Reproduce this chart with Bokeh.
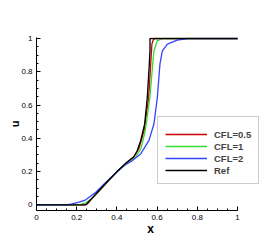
from bokeh.plotting import figure
from bokeh.models import FixedTicker, Legend, LegendItem, Range1d
from bokeh.embed import file_html
from bokeh.resources import INLINE
import numpy as np

# ---- data ----
ref_x = [0, 0.245, 0.30, 0.35, 0.40, 0.45, 0.482, 0.50, 0.518, 0.538, 0.551, 0.561, 0.5645, 0.5645, 1.0]
ref_y = [0, 0, 0.071, 0.136, 0.200, 0.256, 0.286, 0.322, 0.386, 0.486, 0.646, 0.846, 0.93, 1.0, 1.0]

cfl05_x = [0, 0.235, 0.25, 0.261, 0.28, 0.30, 0.35, 0.40, 0.45, 0.485, 0.51, 0.535, 0.558, 0.568, 0.574, 0.58, 0.588, 1.0]
cfl05_y = [0, 0, 0.004, 0.016, 0.042, 0.068, 0.134, 0.199, 0.256, 0.29, 0.34, 0.446, 0.646, 0.846, 0.966, 0.99, 1.0, 1.0]

cfl1_x = [0, 0.20, 0.22, 0.245, 0.27, 0.295, 0.35, 0.40, 0.45, 0.492, 0.52, 0.541, 0.564, 0.578, 0.584, 0.601, 0.626, 1.0]
cfl1_y = [0, 0, 0.003, 0.012, 0.033, 0.062, 0.135, 0.200, 0.256, 0.286, 0.34, 0.446, 0.646, 0.846, 0.926, 0.986, 1.0, 1.0]

cfl2_x = [0, 0.14, 0.162, 0.212, 0.245, 0.295, 0.345, 0.40, 0.44, 0.477, 0.518, 0.559, 0.584, 0.601, 0.614, 0.626, 0.651, 0.70, 0.75, 1.0]
cfl2_y = [0, 0, 0.002, 0.016, 0.03, 0.076, 0.136, 0.198, 0.24, 0.266, 0.306, 0.386, 0.486, 0.646, 0.846, 0.926, 0.966, 0.99, 1.0, 1.0]

x_ticks = [0, 0.2, 0.4, 0.6, 0.8, 1.0]
x_tick_labels = ["0", "0.2", "0.4", "0.6", "0.8", "1"]
y_ticks = [0, 0.2, 0.4, 0.6, 0.8, 1.0]
y_tick_labels = ["0", "0.2", "0.4", "0.6", "0.8", "1"]
minor = [round(v, 2) for v in np.arange(0, 1.0001, 0.05)]

FONT = "Liberation Sans"

p = figure(width=264, height=238, output_backend="svg", toolbar_location=None,
           x_range=Range1d(0, 1.134), y_range=Range1d(-0.034, 1.006),
           min_border_left=36, min_border_right=0, min_border_top=37, min_border_bottom=28)
p.outline_line_color = None
p.xgrid.visible = False
p.ygrid.visible = False

r_red = p.line(cfl05_x, cfl05_y, line_color="#cc0000", line_width=1.3)
r_grn = p.line(cfl1_x, cfl1_y, line_color="#33dd33", line_width=1.3)
r_blu = p.line(cfl2_x, cfl2_y, line_color="#3344ff", line_width=1.3)
r_ref = p.line(ref_x, ref_y, line_color="black", line_width=1.3)

for ax, ticks, labels in ((p.xaxis[0], x_ticks, x_tick_labels), (p.yaxis[0], y_ticks, y_tick_labels)):
    ax.ticker = FixedTicker(ticks=ticks, minor_ticks=minor)
    ax.major_label_overrides = {t: l for t, l in zip(ticks, labels)}
    ax.major_tick_in = 4
    ax.major_tick_out = 0
    ax.minor_tick_in = 2
    ax.minor_tick_out = 0
    ax.axis_line_color = "black"
    ax.axis_line_width = 1
    ax.major_label_text_font = FONT
    ax.major_label_text_font_size = "8px"
    ax.major_label_text_color = "black"
    ax.axis_label_text_font = FONT
    ax.axis_label_text_font_style = "bold"
    ax.axis_label_text_color = "black"

p.xaxis[0].bounds = (0, 1)
p.xaxis[0].axis_label = "x"
p.xaxis[0].axis_label_text_font_size = "12px"
p.xaxis[0].major_label_standoff = 4
p.xaxis[0].axis_label_standoff = -1
p.yaxis[0].axis_label = "u"
p.yaxis[0].axis_label_text_font_size = "11px"
p.yaxis[0].major_label_standoff = 4
p.yaxis[0].axis_label_standoff = -3

legend = Legend(items=[
    LegendItem(label="CFL=0.5", renderers=[r_red]),
    LegendItem(label="CFL=1", renderers=[r_grn]),
    LegendItem(label="CFL=2", renderers=[r_blu]),
    LegendItem(label="Ref", renderers=[r_ref]),
], location=(121, 26), title=" ", title_text_font_size="3px", title_standoff=0,
    padding=7, margin=0, spacing=0, glyph_width=42, glyph_height=12,
    label_height=12, label_standoff=7, label_text_font=FONT,
    label_text_font_style="bold", label_text_font_size="9.5px",
    border_line_color="#999999", border_line_width=1,
    background_fill_color="white", background_fill_alpha=1)
p.add_layout(legend, "center")

open("out.html", "w").write(file_html(p, INLINE))
